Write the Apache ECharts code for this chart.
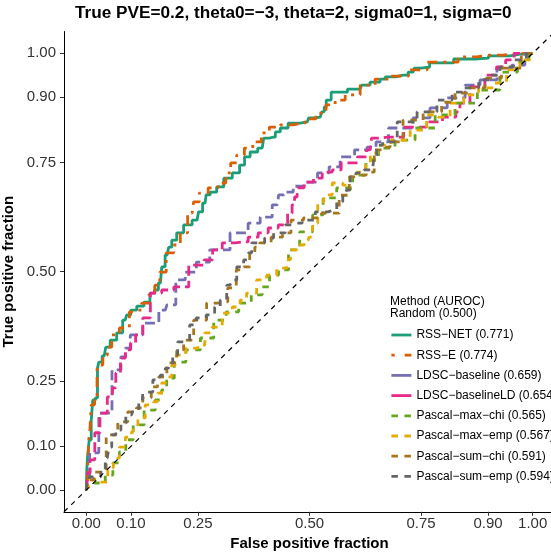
<!DOCTYPE html>
<html><head><meta charset="utf-8">
<script src="https://cdn.jsdelivr.net/npm/echarts@6/dist/echarts.min.js"></script>
<style>html,body{margin:0;padding:0;background:#fff}#c{width:551px;height:557px}</style>
</head><body><div id="c"></div>
<script>
const tickValues = [0, 0.1, 0.25, 0.5, 0.75, 0.9, 1];
const methods = ['RSS−NET', 'RSS−E', 'LDSC−baseline', 'LDSC−baselineLD', 'Pascal−max−chi', 'Pascal−max−emp', 'Pascal−sum−chi', 'Pascal−sum−emp'];
const aurocs = ['0.771', '0.774', '0.659', '0.654', '0.565', '0.567', '0.591', '0.594'];
const colors = ['#1B9E77', '#D95F02', '#7570B3', '#E7298A', '#66A61E', '#E6AB02', '#A6761D', '#666666'];
const randomLine = [[-0.05, -0.05], [1.05, 1.05]];

const rssNet = [[0,0],[0.002,0.046],[0.004,0.080],[0.009,0.115],[0.013,0.160],[0.016,0.206],[0.025,0.211],[0.025,0.279],[0.031,0.293],[0.040,0.307],[0.047,0.327],[0.060,0.343],[0.076,0.360],[0.087,0.389],[0.094,0.401],[0.105,0.412],[0.121,0.421],[0.137,0.430],[0.148,0.451],[0.157,0.458],[0.166,0.474],[0.172,0.511],[0.181,0.538],[0.188,0.556],[0.195,0.572],[0.210,0.589],[0.226,0.607],[0.248,0.618],[0.255,0.637],[0.266,0.657],[0.271,0.676],[0.284,0.682],[0.300,0.694],[0.316,0.714],[0.338,0.726],[0.349,0.744],[0.360,0.763],[0.374,0.774],[0.394,0.783],[0.401,0.806],[0.419,0.808],[0.428,0.820],[0.441,0.829],[0.463,0.840],[0.495,0.843],[0.501,0.852],[0.524,0.854],[0.531,0.866],[0.535,0.877],[0.540,0.893],[0.557,0.911],[0.613,0.918],[0.620,0.927],[0.651,0.934],[0.665,0.941],[0.674,0.946],[0.710,0.950],[0.732,0.957],[0.737,0.966],[0.763,0.968],[0.775,0.978],[0.871,0.987],[0.875,0.989],[0.927,0.994],[0.972,0.998],[1,1]];
const rssE = [[0,0],[0.004,0.007],[0.007,0.115],[0.009,0.137],[0.013,0.195],[0.024,0.206],[0.024,0.275],[0.027,0.286],[0.047,0.309],[0.049,0.327],[0.065,0.355],[0.083,0.371],[0.110,0.408],[0.116,0.412],[0.132,0.428],[0.148,0.447],[0.159,0.469],[0.170,0.499],[0.188,0.543],[0.204,0.561],[0.217,0.589],[0.237,0.634],[0.244,0.660],[0.262,0.680],[0.284,0.692],[0.307,0.703],[0.318,0.726],[0.329,0.749],[0.345,0.767],[0.363,0.783],[0.383,0.797],[0.401,0.818],[0.419,0.831],[0.450,0.836],[0.479,0.840],[0.501,0.850],[0.528,0.863],[0.546,0.882],[0.569,0.893],[0.591,0.905],[0.636,0.927],[0.658,0.941],[0.703,0.948],[0.741,0.962],[0.786,0.980],[0.822,0.980],[0.844,0.992],[0.904,0.996],[0.965,1],[1,1]];
const ldscBaseline = [[0,0],[0.002,0.023],[0.013,0.085],[0.043,0.176],[0.072,0.275],[0.083,0.305],[0.092,0.325],[0.105,0.355],[0.148,0.382],[0.177,0.412],[0.184,0.424],[0.217,0.481],[0.226,0.499],[0.233,0.499],[0.260,0.522],[0.293,0.550],[0.351,0.589],[0.374,0.611],[0.405,0.625],[0.428,0.653],[0.434,0.676],[0.452,0.682],[0.475,0.696],[0.501,0.705],[0.535,0.726],[0.553,0.740],[0.584,0.763],[0.618,0.779],[0.640,0.785],[0.658,0.797],[0.696,0.829],[0.710,0.829],[0.754,0.852],[0.786,0.875],[0.831,0.898],[0.866,0.927],[0.898,0.939],[0.942,0.966],[0.965,0.973],[1,1]];
const ldscBaselineLD = [[0,0],[0.002,0.007],[0.004,0.039],[0.013,0.069],[0.025,0.131],[0.036,0.176],[0.058,0.213],[0.060,0.234],[0.072,0.268],[0.081,0.302],[0.094,0.321],[0.105,0.337],[0.116,0.355],[0.137,0.394],[0.150,0.451],[0.188,0.458],[0.204,0.465],[0.255,0.515],[0.273,0.527],[0.293,0.550],[0.316,0.566],[0.351,0.568],[0.374,0.579],[0.396,0.589],[0.419,0.600],[0.441,0.607],[0.461,0.634],[0.461,0.653],[0.472,0.671],[0.475,0.692],[0.501,0.705],[0.517,0.714],[0.540,0.728],[0.562,0.733],[0.580,0.749],[0.595,0.749],[0.620,0.763],[0.636,0.779],[0.642,0.806],[0.674,0.808],[0.748,0.831],[0.777,0.843],[0.819,0.854],[0.837,0.866],[0.837,0.886],[0.882,0.923],[0.904,0.950],[0.934,0.969],[0.945,0.985],[0.972,1],[1,1]];
const pascalMaxChi = [[0,0],[0.004,0.011],[0.031,0.016],[0.054,0.034],[0.065,0.062],[0.083,0.087],[0.094,0.115],[0.116,0.149],[0.143,0.183],[0.166,0.206],[0.172,0.229],[0.188,0.256],[0.206,0.293],[0.240,0.321],[0.271,0.348],[0.300,0.389],[0.327,0.408],[0.356,0.428],[0.383,0.447],[0.405,0.465],[0.416,0.492],[0.445,0.504],[0.461,0.550],[0.495,0.591],[0.519,0.630],[0.542,0.669],[0.580,0.692],[0.613,0.721],[0.640,0.756],[0.669,0.783],[0.714,0.801],[0.759,0.829],[0.804,0.859],[0.848,0.886],[0.904,0.916],[0.949,0.957],[0.983,0.980],[1,1]];
const pascalMaxEmp = [[0,0],[0.002,0.007],[0.016,0.023],[0.036,0.018],[0.060,0.050],[0.065,0.073],[0.083,0.098],[0.092,0.121],[0.103,0.131],[0.110,0.144],[0.121,0.165],[0.143,0.195],[0.159,0.202],[0.161,0.222],[0.177,0.245],[0.184,0.259],[0.199,0.286],[0.206,0.309],[0.240,0.325],[0.260,0.332],[0.271,0.360],[0.293,0.373],[0.316,0.405],[0.338,0.419],[0.351,0.435],[0.367,0.451],[0.396,0.481],[0.412,0.492],[0.441,0.508],[0.457,0.527],[0.463,0.550],[0.479,0.561],[0.497,0.572],[0.501,0.579],[0.513,0.611],[0.524,0.660],[0.540,0.676],[0.562,0.703],[0.587,0.698],[0.595,0.717],[0.620,0.728],[0.631,0.744],[0.642,0.772],[0.663,0.790],[0.703,0.801],[0.748,0.824],[0.777,0.859],[0.799,0.854],[0.831,0.886],[0.860,0.905],[0.898,0.921],[0.927,0.932],[0.956,0.962],[0.987,0.985],[1,1]];
const pascalSumChi = [[0,0],[0.004,0.023],[0.031,0.041],[0.058,0.126],[0.083,0.156],[0.103,0.179],[0.121,0.188],[0.132,0.211],[0.159,0.236],[0.166,0.259],[0.195,0.291],[0.210,0.321],[0.226,0.343],[0.255,0.389],[0.284,0.428],[0.307,0.431],[0.327,0.463],[0.345,0.504],[0.360,0.511],[0.372,0.543],[0.383,0.556],[0.394,0.566],[0.434,0.579],[0.445,0.589],[0.472,0.618],[0.501,0.623],[0.553,0.634],[0.580,0.675],[0.598,0.717],[0.618,0.721],[0.636,0.728],[0.654,0.779],[0.674,0.785],[0.687,0.797],[0.732,0.847],[0.777,0.866],[0.815,0.888],[0.837,0.909],[0.875,0.921],[0.911,0.943],[0.949,0.966],[1,1]];
const pascalSumEmp = [[0,0],[0.004,0.023],[0.009,0.030],[0.027,0.030],[0.038,0.046],[0.047,0.073],[0.054,0.098],[0.060,0.126],[0.072,0.137],[0.083,0.153],[0.094,0.172],[0.110,0.179],[0.125,0.199],[0.128,0.222],[0.137,0.224],[0.161,0.252],[0.170,0.263],[0.184,0.279],[0.188,0.291],[0.199,0.309],[0.210,0.339],[0.226,0.343],[0.237,0.378],[0.255,0.394],[0.282,0.401],[0.293,0.419],[0.307,0.435],[0.322,0.469],[0.329,0.481],[0.345,0.511],[0.360,0.527],[0.367,0.543],[0.374,0.566],[0.394,0.566],[0.405,0.577],[0.434,0.589],[0.457,0.607],[0.472,0.611],[0.495,0.618],[0.531,0.637],[0.553,0.641],[0.569,0.660],[0.580,0.680],[0.587,0.687],[0.595,0.717],[0.613,0.726],[0.631,0.733],[0.642,0.740],[0.647,0.763],[0.654,0.790],[0.674,0.797],[0.719,0.843],[0.763,0.866],[0.808,0.893],[0.831,0.911],[0.860,0.921],[0.898,0.939],[0.911,0.950],[0.942,0.969],[0.972,0.985],[1,1]];

const curves = [rssNet, rssE, ldscBaseline, ldscBaselineLD, pascalMaxChi, pascalMaxEmp, pascalSumChi, pascalSumEmp];
const plotDash = ['solid', [3, 6, 10, 6], [10, 5], [10, 5], [6.5, 6.5], [6.5, 6.5], [6.5, 6.5], [6.5, 6.5]];
const keyDash = ['solid', [3.3, 10, 13, 10], 'solid', 'solid', [6.5, 6.5], [6.5, 6.5], [6.5, 6.5], [6.5, 6.5]];

const FONT = 'Liberation Sans, Arial, sans-serif';
const names = methods.map((m, i) => m + ' (' + aurocs[i] + ')');

const series = curves.map((d, i) => ({
  name: names[i], type: 'line', data: d, step: 'middle', symbol: 'none', silent: true,
  color: colors[i],
  lineStyle: { color: colors[i], width: 2.8, type: plotDash[i], cap: 'butt' }
}));
series.push({
  name: 'Random', type: 'line', data: randomLine, symbol: 'none', silent: true,
  lineStyle: { color: '#000', width: 1.2, type: [5, 5] }
});

const chart = echarts.init(document.getElementById('c'), null, { renderer: 'canvas' });
chart.setOption({
  animation: false,
  backgroundColor: '#fff',
  title: {
    text: 'True PVE=0.2, theta0=−3, theta=2, sigma0=1, sigma=0',
    left: 75, top: 5, padding: 0,
    textStyle: { fontFamily: FONT, fontSize: 17.2, fontWeight: 'bold', color: '#000' }
  },
  grid: { left: 64, top: 31.5, width: 491, height: 480.3, containLabel: false, outerBoundsMode: 'none' },
  xAxis: {
    type: 'value', min: -0.05, max: 1.05,
    axisLine: { onZero: false, lineStyle: { color: '#000', width: 1 } },
    axisTick: { customValues: tickValues, length: 4, lineStyle: { color: '#333' } },
    axisLabel: { customValues: tickValues, formatter: v => v.toFixed(2), margin: 5, fontSize: 15, color: '#333', fontFamily: FONT },
    splitLine: { show: false },
    name: 'False positive fraction', nameLocation: 'middle', nameGap: 24,
    nameTextStyle: { fontFamily: FONT, fontSize: 15, fontWeight: 'bold', color: '#000' }
  },
  yAxis: {
    type: 'value', min: -0.05, max: 1.05,
    axisLine: { onZero: false, lineStyle: { color: '#000', width: 1 } },
    axisTick: { customValues: tickValues, length: 4, lineStyle: { color: '#333' } },
    axisLabel: { customValues: tickValues, formatter: v => v.toFixed(2), margin: 8, fontSize: 15, color: '#333', fontFamily: FONT },
    splitLine: { show: false },
    name: 'True positive fraction', nameLocation: 'middle', nameGap: 34,
    nameTextStyle: { fontFamily: FONT, fontSize: 15, fontWeight: 'bold', color: '#000' }
  },
  legend: {
    orient: 'vertical', left: 390, top: 329, itemWidth: 20, itemHeight: 14, itemGap: 8.2, padding: 0,
    selectedMode: false,
    textStyle: { fontFamily: FONT, fontSize: 12, color: '#000' },
    itemStyle: { opacity: 0 },
    data: names.map((n, i) => ({ name: n, itemStyle: { opacity: 0 }, lineStyle: { type: keyDash[i], width: 2.8, color: colors[i] } }))
  },
  graphic: [
    { type: 'text', left: 390, top: 296, style: { text: 'Method (AUROC)\nRandom (0.500)', font: '12px ' + FONT, fill: '#000', lineHeight: 12 } }
  ],
  series: series
});
</script>
</body></html>
